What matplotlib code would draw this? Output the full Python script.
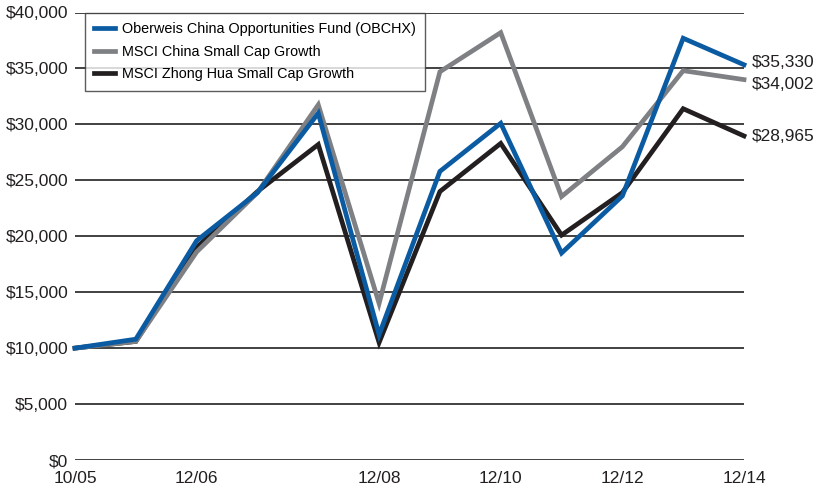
import matplotlib
matplotlib.use("Agg")
import matplotlib.pyplot as plt

plt.rcParams['font.family'] = ['Liberation Sans', 'DejaVu Sans']

# growth of $10,000
x_pos = list(range(12))
tick_pos = [0, 2, 5, 7, 9, 11]
tick_labels = ['10/05', '12/06', '12/08', '12/10', '12/12', '12/14']

obchx = [10000, 10800, 19600, 23900, 31000, 11200, 25800, 30100, 18500, 23600, 37700, 35330]
china_sc = [10000, 10600, 18600, 23900, 31750, 14000, 34700, 38200, 23550, 28000, 34800, 34002]
zhonghua_sc = [10000, 10600, 19000, 24000, 28200, 10500, 24000, 28300, 20100, 23900, 31400, 28965]

series_names = ['Oberweis China Opportunities Fund (OBCHX)',
                'MSCI China Small Cap Growth',
                'MSCI Zhong Hua Small Cap Growth']
colors = ['#0b5ba3', '#7f8083', '#231f20']
end_labels = ['$35,330', '$34,002', '$28,965']
end_offsets = [2, -5, -1]   # px nudge so labels don't collide

fig = plt.figure(figsize=(8.19, 4.93), dpi=100)
ax = fig.add_axes([75 / 819, 1 - 460 / 493, 669 / 819, 447.5 / 493])

yticks = list(range(0, 40001, 5000))
for y in yticks:
    ax.axhline(y, color='#333333', lw=1.3, zorder=1)

# draw back to front: black, gray, blue
all_series = [obchx, china_sc, zhonghua_sc]
for data, name, col, z in zip(all_series, series_names, colors, [4, 3, 2]):
    ax.plot(x_pos, data, color=col, lw=3.4, label=name, zorder=z,
            solid_joinstyle='miter', clip_on=False)

# value labels at the right end
for data, lab, dy in zip(all_series, end_labels, end_offsets):
    ax.annotate(lab, xy=(x_pos[-1], data[-1]), xytext=(8, dy),
                textcoords='offset pixels', va='center', ha='left',
                fontsize=12.5, color='#231f20', annotation_clip=False)

ax.set_xlim(0, 11)
ax.set_ylim(0, 40000)
ax.set_xticks(tick_pos)
ax.set_xticklabels(tick_labels)
ax.set_yticks(yticks)
ax.set_yticklabels(['$' + format(v, ',') for v in yticks])
ax.tick_params(length=0, labelsize=12.5, colors='#231f20')
ax.tick_params(axis='y', pad=5)
ax.tick_params(axis='x', pad=8)
for s in ax.spines.values():
    s.set_visible(False)

handles, labels = ax.get_legend_handles_labels()
leg = ax.legend(handles, labels, loc='upper left', bbox_to_anchor=(0.015, 1.0),
                fontsize=10.4, frameon=True, fancybox=False, handlelength=1.4,
                handletextpad=0.5, labelspacing=0.6, borderpad=0.65,
                borderaxespad=0)
leg.get_frame().set_edgecolor('#333333')
leg.get_frame().set_linewidth(1.0)
leg.set_zorder(5)

fig.savefig('out.png', dpi=100)
